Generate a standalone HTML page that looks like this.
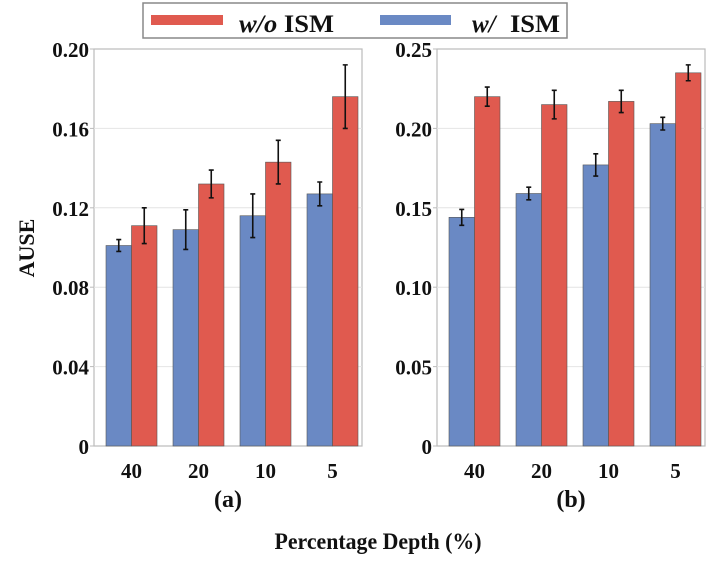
<!DOCTYPE html>
<html><head><meta charset="utf-8"><style>
body{margin:0;background:#fff;}
svg text{font-family:"Liberation Serif",serif;font-weight:bold;fill:#111;}
</style></head><body>
<svg id="chart" width="706" height="557" xmlns="http://www.w3.org/2000/svg">
<g>
<rect x="143" y="3" width="424" height="35" fill="#fff" stroke="#888" stroke-width="1.5"/>
<rect x="151" y="15" width="72" height="10" fill="#e05a4f"/>
<text x="239" y="32" font-size="25" textLength="95" lengthAdjust="spacingAndGlyphs"><tspan font-style="italic">w/o</tspan> ISM</text>
<rect x="380" y="15" width="71" height="10" fill="#6a89c4"/>
<text x="472" y="32" font-size="25" font-style="italic">w/</text>
<text x="510" y="32" font-size="25" textLength="50" lengthAdjust="spacingAndGlyphs">ISM</text>
</g>
<text transform="translate(34,248) rotate(-90)" font-size="22" text-anchor="middle">AUSE</text>
<text x="378" y="549" font-size="23" text-anchor="middle" textLength="207" lengthAdjust="spacingAndGlyphs">Percentage Depth (%)</text>
<g id="pa"></g><g id="pb"></g>
</svg>
<script>
const categories=["40","20","10","5"];
const aBlue=[0.101,0.109,0.116,0.127];
const aBlueErr=[0.003,0.010,0.011,0.006];
const aRed=[0.111,0.132,0.143,0.176];
const aRedErr=[0.009,0.007,0.011,0.016];
const bBlue=[0.144,0.159,0.177,0.203];
const bBlueErr=[0.005,0.004,0.007,0.004];
const bRed=[0.220,0.215,0.217,0.235];
const bRedErr=[0.006,0.009,0.007,0.005];
const aTicks=["0","0.04","0.08","0.12","0.16","0.20"];
const aTickVals=[0,0.04,0.08,0.12,0.16,0.20];
const bTicks=["0","0.05","0.10","0.15","0.20","0.25"];
const bTickVals=[0,0.05,0.10,0.15,0.20,0.25];
const NS="http://www.w3.org/2000/svg";
function mk(p,t,a){const e=document.createElementNS(NS,t);for(const k in a)e.setAttribute(k,a[k]);p.appendChild(e);return e;}
function panel(g,x0,x1,max,tickL,tickV,blue,bErr,red,rErr,label){
const yT=49,yB=446;
const y=v=>yB-(v/max)*(yB-yT);
const gw=(x1-x0)/categories.length;
const bw=25.5;
const box=mk(g,'rect',{x:x0,y:yT,width:x1-x0,height:yB-yT,fill:'#fff',stroke:'#bbb','stroke-width':1.2});


tickV.forEach((v,i)=>{
 if(v>0&&v<max){const gl=mk(g,'line',{x1:x0,x2:x1,y1:y(v),y2:y(v),stroke:'#e4e4e4','stroke-width':1});
 }
 const tk=mk(g,'line',{x1:x0-4,x2:x0,y1:y(v),y2:y(v),stroke:'#bbb','stroke-width':1});
 
 const t=mk(g,'text',{x:x0-5,y:y(v)+8,'font-size':21,'text-anchor':'end'});t.textContent=tickL[i];
 
});
categories.forEach((c,i)=>{
 const cx=x0+gw*(i+0.5)+4;
 [[blue,bErr,'#6a89c4',cx-bw,'bar-w-ism'],[red,rErr,'#e05a4f',cx,'bar-wo-ism']].forEach(([arr,err,col,bx,nm])=>{
  const r=mk(g,'rect',{x:bx,y:y(arr[i]),width:bw,height:yB-y(arr[i]),fill:col,stroke:'#555','stroke-width':0.6});
  
  const ex=bx+bw/2,t=y(arr[i]+err[i]),b=y(arr[i]-err[i]);
  const e=mk(g,'path',{d:`M${ex},${t}V${b}M${ex-2.5},${t}H${ex+2.5}M${ex-2.5},${b}H${ex+2.5}`,stroke:'#111','stroke-width':1.6,fill:'none'});
  
 });
 const t=mk(g,'text',{x:cx,y:478,'font-size':21,'text-anchor':'middle'});t.textContent=c;
 
});
const s=mk(g,'text',{x:(x0+x1)/2,y:507,'font-size':24,'text-anchor':'middle'});s.textContent='('+label+')';

}
panel(document.getElementById('pa'),94,362,0.20,aTicks,aTickVals,aBlue,aBlueErr,aRed,aRedErr,'a');
panel(document.getElementById('pb'),437,705,0.25,bTicks,bTickVals,bBlue,bBlueErr,bRed,bRedErr,'b');
</script>
</body></html>
